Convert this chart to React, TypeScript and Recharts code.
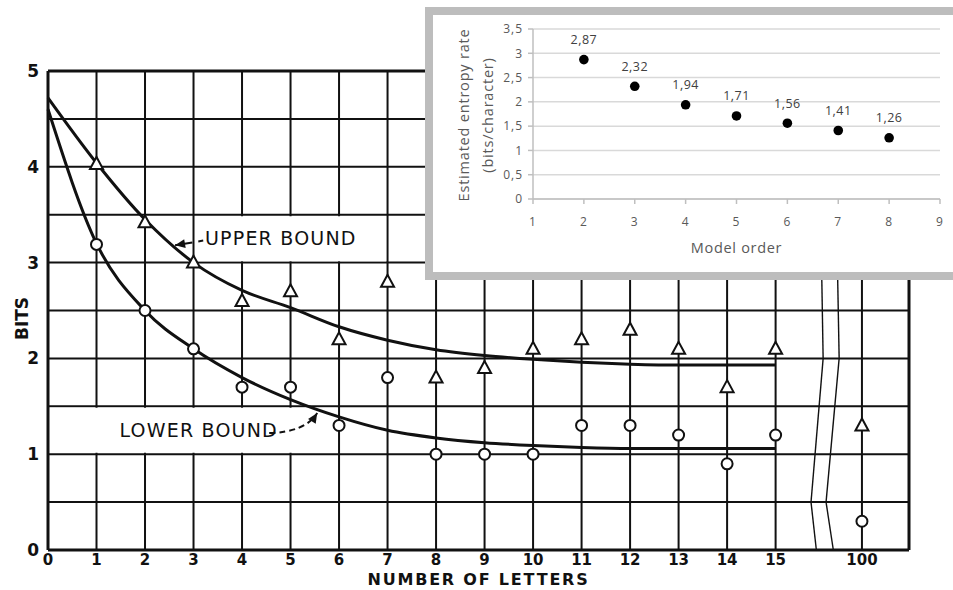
import {
  CartesianGrid,
  ComposedChart,
  LabelList,
  Line,
  ReferenceArea,
  ReferenceLine,
  Scatter,
  ScatterChart,
  XAxis,
  YAxis,
} from 'recharts'

// Shannon's prediction experiment: number of letters vs bits
const letters = [1, 2, 3, 4, 5, 6, 7, 8, 9, 10, 11, 12, 13, 14, 15, 100]
const upperBoundPoints = [4.03, 3.42, 3.0, 2.6, 2.7, 2.2, 2.8, 1.8, 1.9, 2.1, 2.2, 2.3, 2.1, 1.7, 2.1, 1.3]
const lowerBoundPoints = [3.19, 2.5, 2.1, 1.7, 1.7, 1.3, 1.8, 1.0, 1.0, 1.0, 1.3, 1.3, 1.2, 0.9, 1.2, 0.3]

const curveLetters = [0, 1, 2, 3, 4, 5, 6, 7, 8, 9, 10, 11, 12, 13, 14, 15]
const upperCurve = [4.72, 4.04, 3.45, 3.0, 2.71, 2.53, 2.33, 2.19, 2.09, 2.03, 1.99, 1.96, 1.94, 1.93, 1.93, 1.93]
const lowerCurve = [4.6, 3.2, 2.5, 2.1, 1.8, 1.57, 1.39, 1.25, 1.17, 1.12, 1.09, 1.07, 1.06, 1.06, 1.06, 1.06]

const letterTicks = [0, 1, 2, 3, 4, 5, 6, 7, 8, 9, 10, 11, 12, 13, 14, 15, 100]
const bitTicks = [0, 0.5, 1, 1.5, 2, 2.5, 3, 3.5, 4, 4.5, 5]

// inset: estimated entropy rate by model order
const modelOrders = [2, 3, 4, 5, 6, 7, 8]
const entropyRates = [2.87, 2.32, 1.94, 1.71, 1.56, 1.41, 1.26]
const orderTicks = [1, 2, 3, 4, 5, 6, 7, 8, 9]
const rateTicks = [0, 0.5, 1, 1.5, 2, 2.5, 3, 3.5]

// broken axis: 100 letters is drawn just after the break
const POS_100 = 16.78
const X_MAX = 17.75
const pos = (n: number) => (n <= 15 ? n : POS_100)

const upperData = letters.map((n, i) => ({ x: pos(n), y: upperBoundPoints[i] }))
const lowerData = letters.map((n, i) => ({ x: pos(n), y: lowerBoundPoints[i] }))
const upperCurveData = curveLetters.map((n, i) => ({ x: n, y: upperCurve[i] }))
const lowerCurveData = curveLetters.map((n, i) => ({ x: n, y: lowerCurve[i] }))
const entropyData = modelOrders.map((o, i) => ({ order: o, rate: entropyRates[i] }))

// zigzag break marks
const breakLeft = [
  { x: 15.88, y: 5 },
  { x: 15.98, y: 2 },
  { x: 15.73, y: 0.5 },
  { x: 15.84, y: 0 },
]
const breakRight = [
  { x: 16.2, y: 5 },
  { x: 16.31, y: 2 },
  { x: 16.04, y: 0.5 },
  { x: 16.19, y: 0 },
]

const INK = '#111'
const hand = '"DejaVu Sans", sans-serif'
const office = '"Open Sans", sans-serif'

const Triangle = (p: any) => (
  <polygon
    points={`${p.cx},${p.cy - 7} ${p.cx - 6.5},${p.cy + 5} ${p.cx + 6.5},${p.cy + 5}`}
    fill="#fff"
    stroke={INK}
    strokeWidth={2}
  />
)

const Ring = (p: any) => <circle cx={p.cx} cy={p.cy} r={5.5} fill="#fff" stroke={INK} strokeWidth={2} />

const Dot = (p: any) => <circle cx={p.cx} cy={p.cy} r={4.8} fill="#000" />

function arrowHead(x: number, y: number, fromX: number, fromY: number) {
  const a = Math.atan2(y - fromY, x - fromX)
  const len = 10
  const w = 4.5
  const bx = x - len * Math.cos(a)
  const by = y - len * Math.sin(a)
  const px = -Math.sin(a) * w
  const py = Math.cos(a) * w
  return `${x},${y} ${bx + px},${by + py} ${bx - px},${by - py}`
}

const StraightArrow = (p: any) => (
  <g>
    <line x1={p.x1} y1={p.y1} x2={p.x2} y2={p.y2} stroke={INK} strokeWidth={2} strokeDasharray="5 6 60" />
    <polygon points={arrowHead(p.x2, p.y2, p.x1, p.y1)} fill={INK} />
  </g>
)

const CurvedArrow = (p: any) => {
  const cx = p.x1 + 0.75 * (p.x2 - p.x1)
  const cy = p.y1 + 0.05 * (p.y2 - p.y1)
  return (
    <g>
      <path
        d={`M${p.x1},${p.y1} Q${cx},${cy} ${p.x2},${p.y2}`}
        fill="none"
        stroke={INK}
        strokeWidth={2}
        strokeDasharray="6 4"
      />
      <polygon points={arrowHead(p.x2, p.y2, cx, cy)} fill={INK} />
    </g>
  )
}

const BitsLabel = (p: any) => {
  const vb = p.viewBox || { x: 8, y: 71, width: 40, height: 479 }
  const x = vb.x + 14
  const y = vb.y + vb.height / 2 + 8
  return (
    <text
      x={x}
      y={y}
      transform={`rotate(-90 ${x} ${y})`}
      textAnchor="middle"
      dominantBaseline="central"
      fontFamily={hand}
      fontWeight={700}
      fontSize={17}
      fill={INK}
    >
      BITS
    </text>
  )
}

const RateTitle = (p: any) => {
  const vb = p.viewBox || { x: 0, y: 14, width: 100, height: 170 }
  const cy = vb.y + vb.height / 2 + 1
  const x1 = vb.x + 30
  const x2 = vb.x + 54
  const common = {
    textAnchor: 'middle' as const,
    dominantBaseline: 'central' as const,
    fontFamily: office,
    fontSize: 14.5,
    letterSpacing: 0.8,
    fill: '#595959',
  }
  return (
    <g>
      <text x={x1} y={cy} transform={`rotate(-90 ${x1} ${cy})`} {...common}>
        Estimated entropy rate
      </text>
      <text x={x2} y={cy} transform={`rotate(-90 ${x2} ${cy})`} {...common}>
        (bits/character)
      </text>
    </g>
  )
}

const comma = (v: number) => String(v).replace('.', ',')

const boundLabel = (offset: number) => ({
  position: 'insideLeft' as const,
  offset,
  fill: INK,
  fontFamily: hand,
  fontSize: 19,
  letterSpacing: 1.2,
})

export default function App() {
  return (
    <div style={{ position: 'absolute', left: 0, top: 0, width: 953, height: 590, overflow: 'hidden', background: '#fff' }}>
      <ComposedChart width={953} height={590} margin={{ top: 71, right: 44, bottom: 0, left: 8 }}>
        <CartesianGrid stroke={INK} strokeWidth={2} />
        <XAxis
          dataKey="x"
          type="number"
          domain={[0, X_MAX]}
          ticks={letterTicks.map(pos)}
          interval={0}
          tickFormatter={(v: number) => (v > 15 ? '100' : String(v))}
          height={40}
          tickLine={false}
          tickSize={0}
          tickMargin={4}
          axisLine={{ stroke: INK, strokeWidth: 3 }}
          tick={{ fill: INK, fontSize: 15, fontWeight: 700, fontFamily: hand }}
          label={{
            value: 'NUMBER OF LETTERS',
            position: 'insideBottom',
            offset: 5,
            fill: INK,
            fontSize: 16,
            fontWeight: 700,
            fontFamily: hand,
            letterSpacing: 1.8,
          }}
        />
        <YAxis
          dataKey="y"
          type="number"
          domain={[0, 5]}
          ticks={bitTicks}
          interval={0}
          tickFormatter={(v: number) => (Number.isInteger(v) ? String(v) : '')}
          width={40}
          tickLine={false}
          tickSize={0}
          tickMargin={9}
          axisLine={{ stroke: INK, strokeWidth: 3 }}
          tick={{ fill: INK, fontSize: 17, fontWeight: 700, fontFamily: hand }}
          label={<BitsLabel />}
        />
        <ReferenceLine x={X_MAX} stroke={INK} strokeWidth={3} />
        <ReferenceLine y={5} stroke={INK} strokeWidth={3} />
        {breakLeft.slice(1).map((pt, i) => (
          <ReferenceLine key={`bl${i}`} segment={[breakLeft[i], pt]} stroke={INK} strokeWidth={1.4} />
        ))}
        {breakRight.slice(1).map((pt, i) => (
          <ReferenceLine key={`br${i}`} segment={[breakRight[i], pt]} stroke={INK} strokeWidth={1.4} />
        ))}
        <ReferenceArea x1={3.03} x2={6.97} y1={3.015} y2={3.485} fill="#fff" fillOpacity={1} stroke="none" label={{ value: 'UPPER BOUND', ...boundLabel(10) }} />
        <ReferenceArea x1={0.03} x2={5.95} y1={1.015} y2={1.485} fill="#fff" fillOpacity={1} stroke="none" label={{ value: 'LOWER BOUND', ...boundLabel(70) }} />
        <ReferenceLine segment={[{ x: 3.2, y: 3.23 }, { x: 2.62, y: 3.18 }]} shape={StraightArrow} />
        <ReferenceLine segment={[{ x: 4.56, y: 1.22 }, { x: 5.55, y: 1.43 }]} shape={CurvedArrow} />
        <Line data={upperCurveData} dataKey="y" type="monotone" stroke={INK} strokeWidth={3} dot={false} activeDot={false} isAnimationActive={false} />
        <Line data={lowerCurveData} dataKey="y" type="monotone" stroke={INK} strokeWidth={3} dot={false} activeDot={false} isAnimationActive={false} />
        <Scatter data={upperData} dataKey="y" shape={Triangle} isAnimationActive={false} />
        <Scatter data={lowerData} dataKey="y" shape={Ring} isAnimationActive={false} />
      </ComposedChart>

      <div
        style={{
          position: 'absolute',
          left: 425,
          top: 7,
          width: 540,
          height: 273,
          boxSizing: 'border-box',
          border: '8px solid #bdbdbd',
          background: '#fff',
        }}
      >
        <ScatterChart width={520} height={257} margin={{ top: 14, right: 13, bottom: 0, left: 0 }}>
          <CartesianGrid vertical={false} stroke="#d9d9d9" strokeWidth={1.5} />
          <XAxis
            dataKey="order"
            type="number"
            domain={[1, 9]}
            ticks={orderTicks}
            interval={0}
            height={73}
            tickSize={5}
            tickMargin={13}
            axisLine={{ stroke: '#bfbfbf', strokeWidth: 1.5 }}
            tickLine={{ stroke: '#bfbfbf', strokeWidth: 1.5 }}
            tick={{ fill: '#595959', fontSize: 12, fontFamily: office, letterSpacing: 1 }}
            label={{
              value: 'Model order',
              position: 'insideBottom',
              offset: 19,
              fill: '#595959',
              fontSize: 14.5,
              fontFamily: office,
              letterSpacing: 0.7,
            }}
          />
          <YAxis
            dataKey="rate"
            type="number"
            domain={[0, 3.5]}
            ticks={rateTicks}
            interval={0}
            width={100}
            tickSize={5}
            tickMargin={5}
            tickFormatter={comma}
            axisLine={{ stroke: '#bfbfbf', strokeWidth: 1.5 }}
            tickLine={{ stroke: '#bfbfbf', strokeWidth: 1.5 }}
            tick={{ fill: '#595959', fontSize: 12, fontFamily: office, letterSpacing: 1 }}
            label={<RateTitle />}
          />
          <Scatter data={entropyData} dataKey="rate" shape={Dot} isAnimationActive={false}>
            <LabelList
              dataKey="rate"
              position="top"
              offset={11}
              formatter={(v: any) => comma(v)}
              fill="#404040"
              fontSize={12.5}
              fontFamily={office}
              letterSpacing={0.5}
            />
          </Scatter>
        </ScatterChart>
      </div>
    </div>
  )
}
